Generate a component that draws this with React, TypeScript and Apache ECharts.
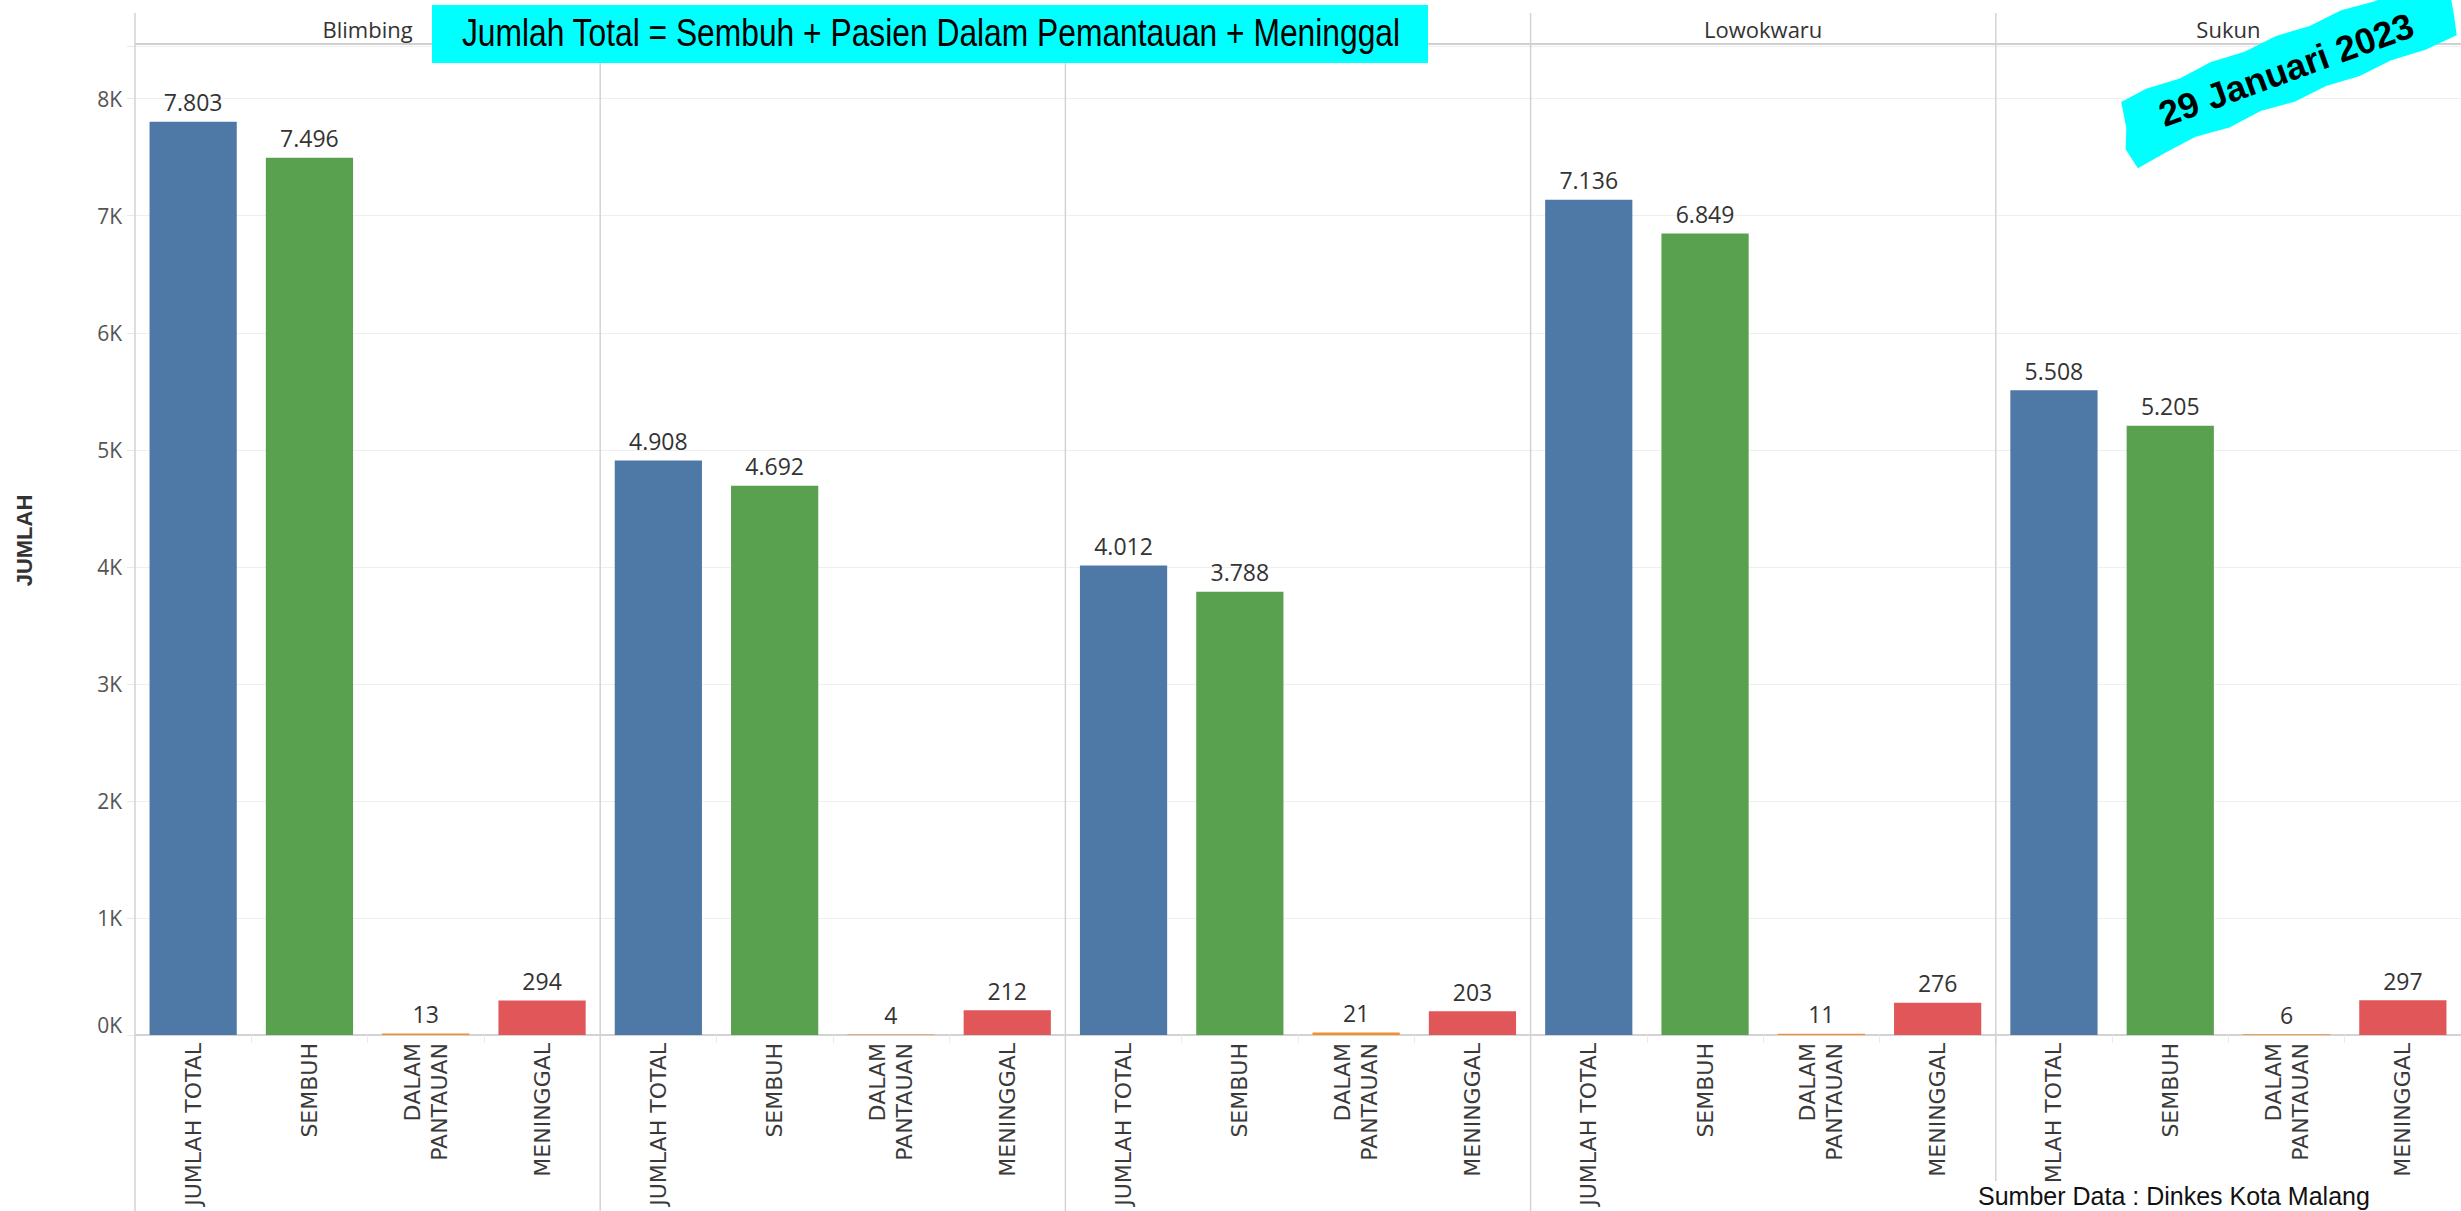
import React, { useEffect, useRef } from "react";
import * as echarts from "echarts";

// ---------- data ----------
const kecamatan = ["Blimbing", "Kedungkandang", "Klojen", "Lowokwaru", "Sukun"];
const categories = ["JUMLAH TOTAL", "SEMBUH", "DALAM\nPANTAUAN", "MENINGGAL"];
const jumlahTotal = [7803, 4908, 4012, 7136, 5508];
const sembuh = [7496, 4692, 3788, 6849, 5205];
const dalamPantauan = [13, 4, 21, 11, 6];
const meninggal = [294, 212, 203, 276, 297];
const yAxisTitle = "JUMLAH";
const bannerText = "Jumlah Total = Sembuh + Pasien Dalam Pemantauan + Meninggal";
const dateText = "29 Januari 2023";
const sourceText = "Sumber Data : Dinkes Kota Malang";

// ---------- layout / style ----------
const W = 2461;
const H = 1211;
const PLOT_LEFT = 135;
const PLOT_TOP = 46;
const PLOT_BOTTOM = 1035;
const PANEL_W = (W - PLOT_LEFT) / kecamatan.length;
const Y_MAX = 8450;
const barColors = ["#4e79a7", "#59a14f", "#f28e2b", "#e15759"];
const LINE_COLOR = "#d3d3d3";

const brushPoints = [
  [-168, -26], [-140, -30], [-105, -28], [-70, -33], [-35, -31], [0, -35], [35, -33],
  [70, -37], [105, -34], [140, -38], [172, -35], [178, -15], [174, 8], [170, 26],
  [135, 29], [100, 27], [65, 31], [30, 29], [-5, 33], [-40, 30], [-75, 35], [-110, 32],
  [-145, 37], [-175, 42], [-180, 20], [-172, 0],
];

function fmt(v: number): string {
  return String(v).replace(/\B(?=(\d{3})+(?!\d))/g, ".");
}

export default function App() {
  const ref = useRef<HTMLDivElement>(null);

  useEffect(() => {
    if (!ref.current) return;
    const chart = echarts.init(ref.current, undefined, { renderer: "svg" });

    const panelValues = kecamatan.map((_, i) => [
      jumlahTotal[i],
      sembuh[i],
      dalamPantauan[i],
      meninggal[i],
    ]);

    const grids = kecamatan.map((_, i) => ({
      left: PLOT_LEFT + i * PANEL_W,
      top: PLOT_TOP,
      width: PANEL_W,
      height: PLOT_BOTTOM - PLOT_TOP,
    }));

    const bottomAxes = kecamatan.map((_, i) => ({
      type: "category",
      gridIndex: i,
      position: "bottom",
      data: categories,
      axisLine: { show: true, lineStyle: { color: "#d3d3d3", width: 2 } },
      axisTick: { show: true, length: 8, lineStyle: { color: "#ebebeb" } },
      axisLabel: {
        rotate: 90,
        interval: 0,
        margin: 8,
        fontFamily: "DejaVu Sans",
        fontSize: 22,
        lineHeight: 27,
        color: "#3a3a3a",
      },
    }));

    const topAxes = kecamatan.map((name, i) => ({
      type: "category",
      gridIndex: i,
      position: "top",
      data: [name],
      axisLine: { show: false },
      axisTick: { show: false },
      axisLabel: {
        margin: 6,
        fontFamily: "Open Sans",
        fontSize: 22,
        color: "#333333",
      },
    }));

    const yAxes = kecamatan.map((_, i) => ({
      type: "value",
      gridIndex: i,
      min: 0,
      max: Y_MAX,
      interval: 1000,
      name: i === 0 ? yAxisTitle : "",
      nameLocation: "middle",
      nameRotate: 90,
      nameGap: 100,
      nameTextStyle: {
        fontFamily: "Liberation Sans",
        fontWeight: "bold",
        fontSize: 22,
        color: "#333333",
      },
      axisLine: { show: false },
      axisTick: { show: i === 0, length: 8, lineStyle: { color: "#e8e8e8" } },
      splitLine: { show: true, lineStyle: { color: "#efefef", width: 1 } },
      axisLabel: {
        show: i === 0,
        margin: 13,
        fontFamily: "Open Sans",
        fontSize: 21,
        color: "#555555",
        verticalAlignMinLabel: "bottom",
        formatter: (v: number) => (v % 1000 === 0 ? v / 1000 + "K" : ""),
      },
    }));

    const series = kecamatan.map((_, i) => ({
      type: "bar",
      xAxisIndex: i,
      yAxisIndex: i,
      data: panelValues[i],
      barWidth: "75%",
      itemStyle: { color: (p: any) => barColors[p.dataIndex] },
      label: {
        show: true,
        position: "top",
        distance: 8,
        fontFamily: "Open Sans",
        fontSize: 23,
        color: "#333333",
        formatter: (p: any) => fmt(p.value),
      },
    }));

    const dividerLines = kecamatan.map((_, i) => ({
      type: "line",
      z: 5,
      shape: {
        x1: PLOT_LEFT + i * PANEL_W,
        y1: 13,
        x2: PLOT_LEFT + i * PANEL_W,
        y2: H,
      },
      style: { stroke: LINE_COLOR, lineWidth: 1.5 },
    }));

    const option: any = {
      animation: false,
      backgroundColor: "#ffffff",
      grid: grids,
      xAxis: [...bottomAxes, ...topAxes],
      yAxis: yAxes,
      series,
      graphic: [
        ...dividerLines,
        {
          type: "line",
          z: 5,
          shape: { x1: PLOT_LEFT, y1: 44, x2: W, y2: 44 },
          style: { stroke: "#d0d0d0", lineWidth: 2 },
        },
        {
          type: "rect",
          z: 100,
          shape: { x: 432, y: 5, width: 996, height: 58 },
          style: { fill: "#00ffff" },
        },
        {
          type: "text",
          z: 101,
          x: 931,
          y: 33,
          scaleX: 0.815,
          style: {
            text: bannerText,
            fontFamily: "Liberation Sans",
            fontSize: 39,
            fill: "#000000",
            align: "center",
            verticalAlign: "middle",
          },
        },
        {
          type: "group",
          z: 100,
          x: 2288,
          y: 69,
          rotation: (20 * Math.PI) / 180,
          children: [
            {
              type: "polygon",
              z: 100,
              shape: { points: brushPoints },
              style: { fill: "#00ffff" },
            },
            {
              type: "text",
              z: 101,
              x: -2,
              y: 0,
              style: {
                text: dateText,
                fontFamily: "Liberation Sans",
                fontWeight: "bold",
                fontSize: 36,
                fill: "#000000",
                align: "center",
                verticalAlign: "middle",
              },
            },
          ],
        },
        {
          type: "rect",
          z: 100,
          shape: { x: 1950, y: 1181, width: W - 1950, height: H - 1181 },
          style: { fill: "#ffffff" },
        },
        {
          type: "text",
          z: 101,
          x: 1978,
          y: 1183,
          style: {
            text: sourceText,
            fontFamily: "Liberation Sans",
            fontSize: 25,
            fill: "#111111",
            align: "left",
            verticalAlign: "top",
          },
        },
      ],
    };

    chart.setOption(option);
    return () => chart.dispose();
  }, []);

  return (
    <div
      ref={ref}
      style={{ position: "fixed", left: 0, top: 0, width: W, height: H, background: "#fff" }}
    />
  );
}
